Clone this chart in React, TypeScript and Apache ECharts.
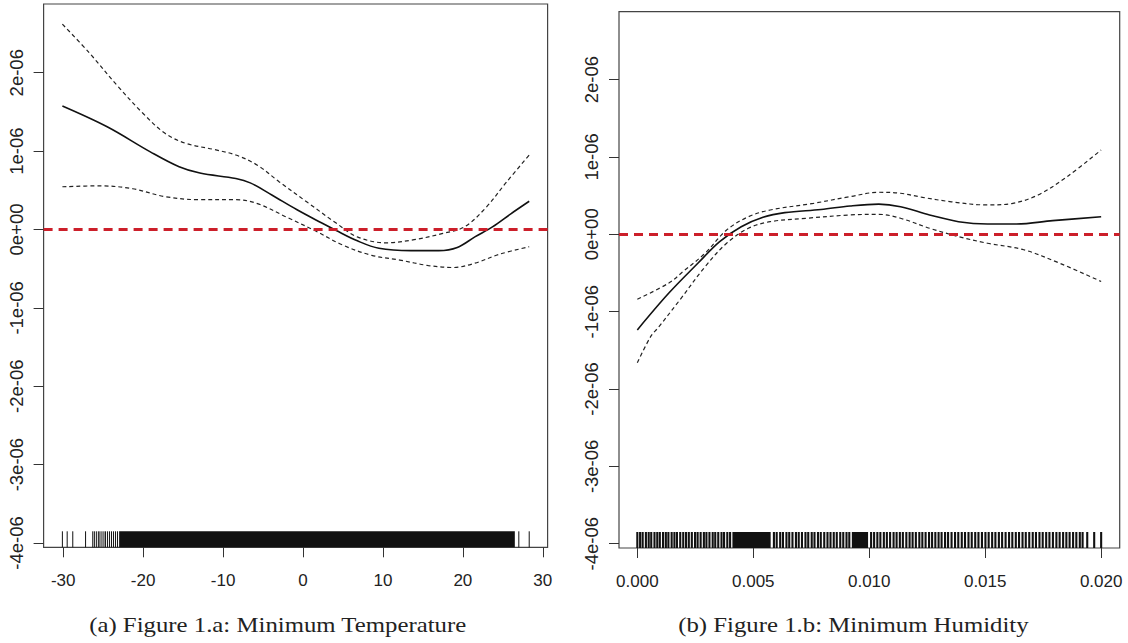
import React, { useEffect, useRef } from "react";
import * as echarts from "echarts";

// ---------- Panel (a): Minimum Temperature (y values in units of 1e-6) ----------
const tempFitX = [-30.1, -24.5, -19.1, -15.5, -12.9, -8.4, -6.6, -3.9, -0.8, 2.3, 4.1, 6.8, 9.5, 13.5, 17.0, 19.3, 21.5, 23.7, 26.0, 28.3];
const tempFitY = [1.575, 1.31, 0.99, 0.8, 0.72, 0.65, 0.595, 0.44, 0.255, 0.085, -0.01, -0.145, -0.24, -0.27, -0.27, -0.23, -0.095, 0.033, 0.2, 0.36];
const tempUpperX = [-30.1, -26.7, -23.1, -20.0, -17.3, -14.7, -11.1, -8.4, -5.7, -3.0, 0.5, 4.1, 6.8, 10.4, 13.9, 17.5, 20.2, 22.8, 25.5, 28.3];
const tempUpperY = [2.62, 2.25, 1.82, 1.48, 1.23, 1.1, 1.02, 0.95, 0.82, 0.61, 0.35, 0.085, -0.095, -0.17, -0.13, -0.05, 0.033, 0.27, 0.61, 0.95];
const tempLowerX = [-30.1, -25.4, -21.3, -17.3, -12.9, -8.4, -5.7, -2.1, 1.4, 5.0, 8.6, 12.1, 15.7, 18.8, 21.5, 24.6, 28.3];
const tempLowerY = [0.545, 0.557, 0.52, 0.42, 0.38, 0.38, 0.33, 0.16, -0.01, -0.2, -0.33, -0.39, -0.46, -0.485, -0.43, -0.315, -0.22];
// rug: isolated observations and the range where observations are continuous
const tempRugTicks = [-30.1, -29.5, -28.8, -27.2, -26.3, -26.1, -25.85, -25.6, -25.4, -25.15, -24.9, -24.7, -24.45, -24.2, -23.95, -23.7, -23.45, -23.2, 27.0, 28.3];
const tempRugBands = [[-23.0, 26.5]];
const tempTickValues = [-30, -20, -10, 0, 10, 20, 30];
const tempTickLabels = ["-30", "-20", "-10", "0", "10", "20", "30"];

// ---------- Panel (b): Minimum Humidity ----------
const humFitX = [0, 0.00136, 0.00261, 0.00355, 0.00448, 0.00542, 0.00636, 0.00792, 0.00917, 0.01041, 0.01135, 0.0126, 0.01385, 0.0151, 0.01635, 0.01791, 0.02];
const humFitY = [-1.236, -0.76, -0.375, -0.095, 0.098, 0.22, 0.28, 0.32, 0.366, 0.39, 0.357, 0.25, 0.163, 0.133, 0.133, 0.176, 0.227];
const humUpperX = [0, 0.00136, 0.00198, 0.00292, 0.00385, 0.00479, 0.00573, 0.0076, 0.00917, 0.01041, 0.01135, 0.01229, 0.01354, 0.0151, 0.01619, 0.01728, 0.01853, 0.02];
const humUpperY = [-0.84, -0.63, -0.48, -0.245, 0.055, 0.227, 0.314, 0.4, 0.486, 0.543, 0.53, 0.478, 0.42, 0.379, 0.4, 0.508, 0.744, 1.09];
const humLowerX = [0, 0.00058, 0.00089, 0.00183, 0.00292, 0.00385, 0.00479, 0.00573, 0.0073, 0.00917, 0.01041, 0.01135, 0.0126, 0.01385, 0.0151, 0.01666, 0.01822, 0.02];
const humLowerY = [-1.66, -1.32, -1.21, -0.85, -0.42, -0.116, 0.078, 0.163, 0.207, 0.25, 0.258, 0.207, 0.078, -0.03, -0.116, -0.2, -0.375, -0.61];
// rug positions in units of 1e-4
const humRugTicks = [
  0.0, 1.2, 2.3, 3.7, 4.9, 6.0, 7.4, 8.6, 9.7, 11.1, 12.3, 13.4, 14.8, 16.0, 17.1, 18.5, 19.8, 21.0, 22.2, 23.5,
  24.9, 26.0, 27.3, 28.7, 29.8, 31.1, 32.5, 33.6, 34.9, 36.3, 37.4, 38.8, 40.0,
  58.9, 60.1, 61.6, 62.8, 64.3, 65.5, 66.9, 68.4, 69.6, 71.0, 72.5, 73.7, 75.2, 76.4, 77.9, 79.1, 80.6, 82.0,
  83.3, 84.7, 86.0, 87.5, 88.8, 90.2, 91.4,
  100.8, 102.1, 103.5, 104.8, 106.3, 107.6, 109.0, 110.5, 111.8, 113.2, 114.5, 116.0, 117.4, 118.7, 120.1,
  121.6, 122.9, 124.3, 125.8, 127.1, 128.5, 129.9, 131.2, 132.7, 134.0, 135.5, 137.0, 138.4, 139.9, 141.3,
  142.8, 144.2, 145.7, 147.1, 148.6, 150.1, 151.5, 153.0, 154.4, 155.9, 157.3, 158.8, 160.3, 161.7, 163.2,
  164.6, 166.1, 167.5, 169.0, 170.5, 171.9, 173.4, 174.8, 176.3, 177.7, 179.2, 180.7, 182.1, 183.6, 185.0,
  186.4, 187.9, 189.3, 190.8, 192.0, 194.0, 197.0, 200.0,
];
const humRugBands = [[41.0, 57.5], [92.5, 99.5]];
const humTickValues = [0, 0.005, 0.01, 0.015, 0.02];
const humTickLabels = ["0.000", "0.005", "0.010", "0.015", "0.020"];

// ---------- shared y axis ----------
const yTickValues = [-4, -3, -2, -1, 0, 1, 2];
const yTickLabels = ["-4e-06", "-3e-06", "-2e-06", "-1e-06", "0e+00", "1e-06", "2e-06"];
const Y_MIN = -4.055;
const Y_MAX = 2.877;

const captions = ["(a) Figure 1.a: Minimum Temperature", "(b) Figure 1.b: Minimum Humidity"];

const zip = (xs: number[], ys: number[]) => xs.map((x, i) => [x, ys[i]]);
const labelFor = (vals: number[], labels: string[]) => (v: number) => {
  let best = 0;
  vals.forEach((t, i) => {
    if (Math.abs(t - v) < Math.abs(vals[best] - v)) best = i;
  });
  return labels[best];
};

const RUG_LEN = 16;
const rugTickSeries = (idx: number, xs: number[], width: number) => ({
  type: "custom",
  xAxisIndex: idx,
  yAxisIndex: idx,
  silent: true,
  data: xs.map((x) => [x, Y_MIN]),
  renderItem: (_p: any, api: any) => {
    const p = api.coord([api.value(0), Y_MIN]);
    return {
      type: "line",
      shape: { x1: p[0], y1: p[1], x2: p[0], y2: p[1] - RUG_LEN },
      style: { stroke: "#111", lineWidth: width },
    };
  },
});
const rugBandSeries = (idx: number, bands: number[][]) => ({
  type: "custom",
  xAxisIndex: idx,
  yAxisIndex: idx,
  silent: true,
  data: bands.map((b) => [b[0], b[1]]),
  renderItem: (_p: any, api: any) => {
    const a = api.coord([api.value(0), Y_MIN]);
    const b = api.coord([api.value(1), Y_MIN]);
    return {
      type: "rect",
      shape: { x: a[0], y: a[1] - RUG_LEN, width: b[0] - a[0], height: RUG_LEN },
      style: { fill: "#111" },
    };
  },
});

const lineSeries = (idx: number, data: number[][], dashed: boolean, withZero: boolean) => ({
  type: "line",
  xAxisIndex: idx,
  yAxisIndex: idx,
  data,
  smooth: 0.35,
  showSymbol: false,
  silent: true,
  lineStyle: dashed
    ? { color: "#222", width: 1.2, type: [4, 3] }
    : { color: "#111", width: 1.6 },
  markLine: withZero
    ? {
        silent: true,
        symbol: ["none", "none"],
        label: { show: false },
        lineStyle: { color: "#cc1f2a", width: 3, type: [9, 6] },
        data: [{ yAxis: 0 }],
      }
    : undefined,
});

const xAxisCommon = (idx: number, min: number, max: number, vals: number[], labels: string[]) => ({
  type: "value",
  gridIndex: idx,
  min,
  max,
  axisLine: { show: false, onZero: false },
  splitLine: { show: false },
  axisTick: { show: true, length: 10, customValues: vals, lineStyle: { color: "#333", width: 1 } },
  axisLabel: {
    customValues: vals,
    formatter: labelFor(vals, labels),
    margin: 25,
    color: "#222",
    fontSize: 17,
    fontFamily: "'Liberation Sans', Arial, sans-serif",
  },
});
const yAxisCommon = (idx: number) => ({
  type: "value",
  gridIndex: idx,
  min: Y_MIN,
  max: Y_MAX,
  axisLine: { show: false, onZero: false },
  splitLine: { show: false },
  axisTick: { show: true, length: 10, customValues: yTickValues, lineStyle: { color: "#333", width: 1 } },
  axisLabel: {
    customValues: yTickValues,
    formatter: labelFor(yTickValues, yTickLabels),
    rotate: 90,
    margin: 18,
    color: "#222",
    fontSize: 18.5,
    fontFamily: "'Liberation Sans', Arial, sans-serif",
  },
});

const captionText = (text: string, x: number) => ({
  type: "text",
  x,
  y: 625,
  scaleX: 1.24,
  style: { text, textAlign: "center", textVerticalAlign: "middle", fill: "#222", font: "20px 'Liberation Serif', serif" },
});

export default function App() {
  const ref = useRef<HTMLDivElement>(null);
  useEffect(() => {
    if (!ref.current) return;
    const chart = echarts.init(ref.current, undefined, { renderer: "svg" });
    chart.setOption({
      animation: false,
      backgroundColor: "#ffffff",
      grid: [
        { left: 43.6, top: 4, width: 504, height: 543.3, show: true, borderColor: "#444", borderWidth: 1.2, backgroundColor: "transparent" },
        { left: 619, top: 11.7, width: 500.7, height: 536.3, show: true, borderColor: "#444", borderWidth: 1.2, backgroundColor: "transparent" },
      ],
      xAxis: [
        xAxisCommon(0, -32.45, 30.6, tempTickValues, tempTickLabels),
        xAxisCommon(1, -0.00079, 0.0208, humTickValues, humTickLabels),
      ],
      yAxis: [yAxisCommon(0), yAxisCommon(1)],
      series: [
        rugBandSeries(0, tempRugBands),
        rugTickSeries(0, tempRugTicks, 1),
        lineSeries(0, zip(tempFitX, tempFitY), false, true),
        lineSeries(0, zip(tempUpperX, tempUpperY), true, false),
        lineSeries(0, zip(tempLowerX, tempLowerY), true, false),
        rugBandSeries(1, humRugBands.map((b) => [b[0] / 1e4, b[1] / 1e4])),
        rugTickSeries(1, humRugTicks.map((v) => v / 1e4), 2.1),
        lineSeries(1, zip(humFitX, humFitY), false, true),
        lineSeries(1, zip(humUpperX, humUpperY), true, false),
        lineSeries(1, zip(humLowerX, humLowerY), true, false),
      ],
      graphic: [captionText(captions[0], 277.7), captionText(captions[1], 853.4)],
    });
    return () => chart.dispose();
  }, []);
  return <div ref={ref} style={{ position: "absolute", left: 0, top: 0, width: 1128, height: 643 }} />;
}
